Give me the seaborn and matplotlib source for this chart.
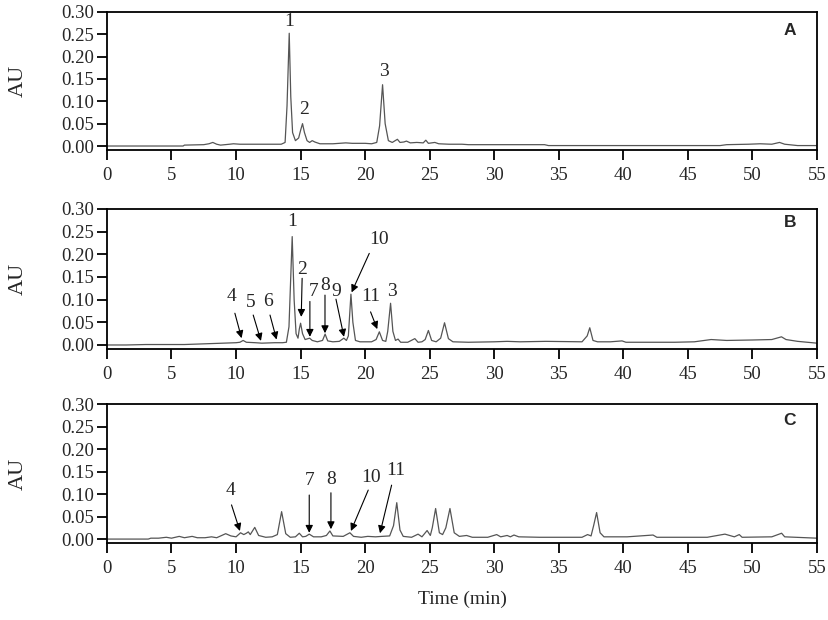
import seaborn as sns
import pandas as pd
from matplotlib import pyplot as plt

# chromatogram traces (time in min, absorbance in AU)
time_a = [0, 2.5, 5.9, 6.0, 7.5, 7.9, 8.2, 8.5, 8.8, 9.5, 9.8, 10.3, 11.0, 12.5, 13.5,
          13.8, 13.95, 14.12, 14.24, 14.38, 14.6, 14.85, 15.0, 15.15, 15.3, 15.5, 15.7,
          15.9, 16.1, 16.5, 17.5, 18.0, 18.5, 19.0, 20.0, 20.5, 20.9, 21.12, 21.35, 21.55,
          21.8, 22.1, 22.5, 22.7, 23.0, 23.2, 23.5, 24.0, 24.5, 24.7, 24.9, 25.4, 25.7,
          26.5, 27.5, 28.0, 30.0, 33.9, 34.2, 40.0, 47.5, 48.0, 49.7, 50.6, 51.5, 52.1,
          52.5, 53.5, 55.0]
au_a = [0.000, 0.000, 0.000, 0.002, 0.003, 0.005, 0.008, 0.004, 0.002, 0.004, 0.005,
        0.004, 0.004, 0.004, 0.004, 0.008, 0.090, 0.252, 0.110, 0.030, 0.012, 0.018,
        0.035, 0.050, 0.030, 0.012, 0.008, 0.012, 0.009, 0.005, 0.005, 0.006, 0.007,
        0.006, 0.006, 0.005, 0.008, 0.045, 0.137, 0.050, 0.012, 0.008, 0.015, 0.008,
        0.009, 0.011, 0.007, 0.008, 0.007, 0.013, 0.006, 0.008, 0.005, 0.004, 0.004,
        0.003, 0.003, 0.003, 0.001, 0.001, 0.001, 0.003, 0.004, 0.005, 0.004, 0.008,
        0.004, 0.001, 0.001]

time_b = [0, 1.5, 3.0, 6.0, 7.0, 8.0, 9.0, 10.0, 10.3, 10.55, 10.8, 11.5, 12.0, 13.0,
          13.6, 13.9, 14.1, 14.35, 14.5, 14.65, 14.8, 14.9, 15.0, 15.15, 15.35, 15.7,
          15.9, 16.3, 16.7, 16.9, 17.1, 17.5, 18.0, 18.35, 18.55, 18.7, 18.9, 19.05,
          19.25, 19.6, 20.5, 20.85, 21.1, 21.35, 21.6, 21.75, 21.97, 22.15, 22.35, 22.55,
          22.75, 23.3, 23.85, 24.1, 24.4, 24.65, 24.9, 25.15, 25.5, 25.85, 26.15, 26.45,
          26.8, 28.0, 30.0, 31.0, 32.0, 34.0, 36.8, 37.2, 37.4, 37.65, 38.0, 39.0, 39.9,
          40.2, 42.0, 44.0, 45.5, 46.8, 48.0, 50.0, 51.5, 52.25, 52.6, 53.5, 55.0]
au_b = [0.000, 0.000, 0.001, 0.001, 0.002, 0.003, 0.004, 0.005, 0.006, 0.010, 0.006,
        0.005, 0.004, 0.005, 0.005, 0.006, 0.040, 0.239, 0.100, 0.025, 0.015, 0.035,
        0.048, 0.025, 0.012, 0.015, 0.010, 0.007, 0.010, 0.024, 0.009, 0.007, 0.008,
        0.015, 0.010, 0.020, 0.112, 0.050, 0.010, 0.007, 0.007, 0.012, 0.029, 0.010,
        0.008, 0.030, 0.092, 0.030, 0.010, 0.013, 0.006, 0.006, 0.014, 0.006, 0.007,
        0.012, 0.032, 0.010, 0.007, 0.015, 0.049, 0.014, 0.007, 0.006, 0.007, 0.008,
        0.007, 0.008, 0.007, 0.020, 0.038, 0.010, 0.007, 0.007, 0.009, 0.006, 0.006,
        0.006, 0.007, 0.012, 0.010, 0.011, 0.012, 0.018, 0.012, 0.008, 0.004]

time_c = [0, 3.2, 3.4, 4.0, 4.6, 5.0, 5.6, 6.0, 6.6, 7.0, 7.6, 8.1, 8.5, 9.2, 9.6, 10.0,
          10.35, 10.6, 10.8, 10.95, 11.1, 11.45, 11.75, 12.3, 12.8, 13.2, 13.53, 13.85,
          14.2, 14.6, 14.9, 15.15, 15.4, 15.67, 16.0, 16.6, 17.0, 17.27, 17.5, 18.3,
          18.82, 19.1, 19.7, 20.2, 20.8, 21.3, 21.9, 22.2, 22.45, 22.7, 22.95, 23.6, 24.1,
          24.4, 24.8, 25.05, 25.2, 25.46, 25.75, 26.0, 26.25, 26.57, 26.9, 27.3, 27.86,
          28.3, 29.5, 30.19, 30.5, 31.0, 31.25, 31.53, 31.9, 33.5, 36.8, 37.23, 37.5,
          37.7, 37.93, 38.2, 38.5, 40.3, 42.3, 42.6, 46.5, 47.87, 48.6, 48.98, 49.2,
          51.5, 52.26, 52.5, 55.0]
au_c = [0.000, 0.000, 0.002, 0.002, 0.004, 0.002, 0.006, 0.003, 0.006, 0.003, 0.003,
        0.005, 0.003, 0.012, 0.007, 0.005, 0.014, 0.010, 0.013, 0.016, 0.010, 0.026,
        0.008, 0.004, 0.005, 0.010, 0.061, 0.012, 0.004, 0.005, 0.013, 0.005, 0.006,
        0.011, 0.005, 0.005, 0.008, 0.018, 0.007, 0.006, 0.014, 0.006, 0.004, 0.006,
        0.005, 0.006, 0.007, 0.030, 0.081, 0.020, 0.006, 0.004, 0.011, 0.005, 0.019,
        0.008, 0.025, 0.068, 0.014, 0.010, 0.025, 0.068, 0.014, 0.006, 0.008, 0.004,
        0.004, 0.010, 0.005, 0.008, 0.005, 0.009, 0.005, 0.004, 0.004, 0.010, 0.007,
        0.030, 0.059, 0.014, 0.005, 0.005, 0.009, 0.004, 0.004, 0.011, 0.005, 0.010,
        0.004, 0.005, 0.013, 0.005, 0.002]

panel_names = ["A", "B", "C"]
x_ticks = list(range(0, 56, 5))
y_ticks = [0.00, 0.05, 0.10, 0.15, 0.20, 0.25, 0.30]

# peak labels: (text, label x, label y, arrow tail, arrow head) - arrow None if plain label
labels_a = [("1", 14.1, 0.278, None, None),
            ("2", 15.26, 0.081, None, None),
            ("3", 21.46, 0.166, None, None)]
labels_b = [("1", 14.37, 0.272, None, None),
            ("2", 15.15, 0.166, (15.12, 0.147), (15.05, 0.062)),
            ("7", 15.98, 0.118, (15.72, 0.096), (15.72, 0.018)),
            ("8", 16.89, 0.132, (16.89, 0.110), (16.89, 0.026)),
            ("9", 17.79, 0.118, (17.74, 0.101), (18.36, 0.018)),
            ("10", 21.1, 0.232, (20.32, 0.202), (18.95, 0.116)),
            ("11", 20.42, 0.107, (20.42, 0.073), (20.94, 0.035)),
            ("3", 22.05, 0.118, None, None),
            ("4", 9.66, 0.107, (9.91, 0.070), (10.43, 0.015)),
            ("5", 11.15, 0.093, (11.33, 0.066), (11.93, 0.009)),
            ("6", 12.5, 0.096, (12.63, 0.066), (13.14, 0.012))]
labels_c = [("4", 9.58, 0.109, (9.65, 0.076), (10.3, 0.018)),
            ("7", 15.67, 0.131, (15.67, 0.098), (15.67, 0.014)),
            ("8", 17.4, 0.133, (17.35, 0.103), (17.35, 0.022)),
            ("10", 20.42, 0.137, (20.24, 0.109), (18.9, 0.018)),
            ("11", 22.4, 0.153, (22.05, 0.120), (21.15, 0.013))]

letter_y = {"A": 0.865, "B": 0.90, "C": 0.885}

sns.set_style("ticks")
plt.rcParams['font.family'] = ['Liberation Serif', 'DejaVu Serif']

fig = plt.figure(figsize=(8.29, 6.2), dpi=100)
rects = [[0.129, 0.758, 0.8565, 0.223],
         [0.129, 0.437, 0.8565, 0.226],
         [0.129, 0.124, 0.8565, 0.224]]
traces = [(time_a, au_a), (time_b, au_b), (time_c, au_c)]
all_labels = [labels_a, labels_b, labels_c]

for i, name in enumerate(panel_names):
    ax = fig.add_axes(rects[i])
    df = pd.DataFrame({"Time": traces[i][0], "AU": traces[i][1]})
    sns.lineplot(data=df, x="Time", y="AU", ax=ax, color="#555555",
                 linewidth=0.9, estimator=None, sort=False)
    ax.set_xlim(0, 55)
    ax.set_ylim(-0.009, 0.30)
    ax.set_xticks(x_ticks)
    ax.set_yticks(y_ticks)
    ax.set_yticklabels([f"{v:.2f}" for v in y_ticks])
    ax.tick_params(axis="both", direction="out", length=7, width=1.3,
                   labelsize=13.5, color="black", top=False, right=False)
    ax.tick_params(axis="x", pad=5)
    ax.tick_params(axis="y", pad=2)
    for sp in ax.spines.values():
        sp.set_linewidth(1.3)
        sp.set_color("black")
    ax.set_ylabel("AU", fontsize=16)
    ax.yaxis.set_label_coords(-0.112, 0.5)
    ax.set_xlabel("")
    for text, tx, ty, tail, head in all_labels[i]:
        ax.text(tx, ty, text, ha="center", va="center", fontsize=14)
        if tail is not None:
            ax.annotate("", xy=head, xytext=tail,
                        arrowprops=dict(arrowstyle="-|>", color="black", lw=0.8,
                                        mutation_scale=11, shrinkA=0, shrinkB=0))
    ax.text(0.962, letter_y[name], name, transform=ax.transAxes, ha="center",
            va="center", fontsize=12.5, fontweight="bold", family="Liberation Sans")

ax.set_xlabel("Time (min)", fontsize=14, labelpad=10)

fig.savefig("out.png", dpi=100)
